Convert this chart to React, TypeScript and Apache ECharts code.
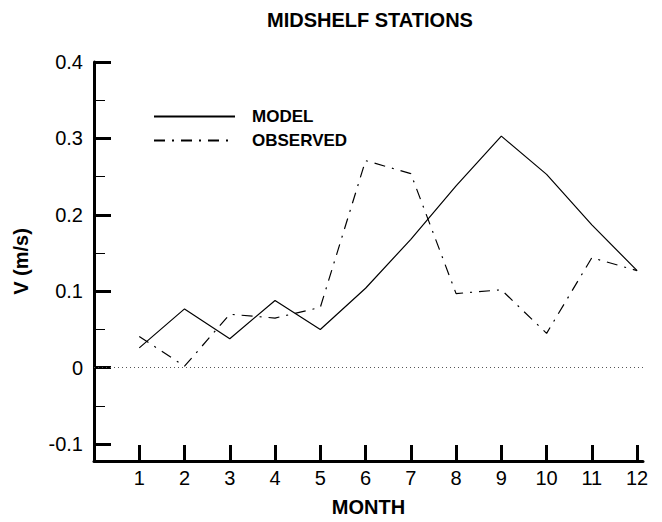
import React, { useEffect, useRef } from "react";
import * as echarts from "echarts";

// Monthly mean alongshore velocity at the midshelf stations
const months = [1, 2, 3, 4, 5, 6, 7, 8, 9, 10, 11, 12];
const modelV = [0.026, 0.077, 0.038, 0.088, 0.05, 0.104, 0.168, 0.238, 0.303, 0.253, 0.187, 0.127];
const observedV = [0.041, 0.002, 0.07, 0.065, 0.079, 0.271, 0.254, 0.097, 0.102, 0.045, 0.144, 0.127];

const yMajorTicks = [-0.1, 0, 0.1, 0.2, 0.3, 0.4];
const yMinorTicks = [-0.05, 0.05, 0.15, 0.25, 0.35];
const yLabels = ["-0.1", "0", "0.1", "0.2", "0.3", "0.4"];

const FONT = "'Liberation Sans', Arial, Helvetica, sans-serif";

export default function App() {
  const ref = useRef<HTMLDivElement>(null);

  useEffect(() => {
    document.body.style.margin = "0";
    if (!ref.current) return;
    const chart = echarts.init(ref.current, undefined, { renderer: "svg" });

    const toPairs = (vals: number[]) => months.map((m, i) => [m, vals[i]]);

    chart.setOption({
      animation: false,
      backgroundColor: "#ffffff",
      title: {
        text: "MIDSHELF STATIONS",
        left: 262,
        top: 5,
        textStyle: { fontFamily: FONT, fontWeight: "bold", fontSize: 20, color: "#000" },
      },
      legend: {
        orient: "vertical",
        left: 148,
        top: 103,
        itemWidth: 81,
        itemHeight: 10,
        itemGap: 7,
        selectedMode: false,
        itemStyle: { color: "transparent", borderWidth: 0, opacity: 0 },
        textStyle: {
          fontFamily: FONT,
          fontWeight: "bold",
          fontSize: 17,
          color: "#000",
          padding: [0, 0, 0, 12],
        },
        data: ["MODEL", "OBSERVED"],
      },
      grid: { left: 94, right: 19, top: 62, bottom: 55, containLabel: false },
      xAxis: {
        type: "value",
        min: 0,
        max: 12.13,
        name: "MONTH",
        nameLocation: "middle",
        nameGap: 36,
        nameTextStyle: { fontFamily: FONT, fontWeight: "bold", fontSize: 20, color: "#000" },
        axisLine: { onZero: false, lineStyle: { color: "#000", width: 3 } },
        axisTick: {
          inside: true,
          length: 16,
          customValues: months,
          lineStyle: { color: "#000", width: 3 },
        },
        axisLabel: {
          customValues: months,
          margin: 7,
          fontFamily: FONT,
          fontSize: 20,
          color: "#000",
        },
        splitLine: { show: false },
      },
      yAxis: [
        {
          type: "value",
          min: -0.122,
          max: 0.4,
          name: "V (m/s)",
          nameLocation: "middle",
          nameGap: 63,
          nameRotate: 90,
          nameTextStyle: { fontFamily: FONT, fontWeight: "bold", fontSize: 20, color: "#000" },
          axisLine: { onZero: false, lineStyle: { color: "#000", width: 3 } },
          axisTick: {
            inside: true,
            length: 17,
            customValues: yMajorTicks,
            lineStyle: { color: "#000", width: 3 },
          },
          axisLabel: {
            customValues: yMajorTicks,
            margin: 11,
            fontFamily: FONT,
            fontSize: 20,
            color: "#000",
            formatter: (v: number) => {
              const idx = yMajorTicks.findIndex((t) => Math.abs(t - v) < 1e-6);
              return idx >= 0 ? yLabels[idx] : "";
            },
          },
          splitLine: { show: false },
        },
        {
          type: "value",
          min: -0.122,
          max: 0.4,
          position: "left",
          axisLine: { show: false, onZero: false },
          axisTick: {
            inside: true,
            length: 11,
            customValues: yMinorTicks,
            lineStyle: { color: "#000", width: 1 },
          },
          axisLabel: { show: false },
          splitLine: { show: false },
        },
      ],
      series: [
        {
          name: "MODEL",
          type: "line",
          symbol: "none",
          data: toPairs(modelV),
          lineStyle: { color: "#000", width: 1.2, type: "solid" },
          itemStyle: { color: "#000" },
          markLine: {
            silent: true,
            symbol: "none",
            label: { show: false },
            lineStyle: { color: "#555", width: 1, type: [1, 3] },
            data: [{ yAxis: 0 }],
          },
        },
        {
          name: "OBSERVED",
          type: "line",
          symbol: "none",
          data: toPairs(observedV),
          lineStyle: { color: "#000", width: 1.2, type: [11, 7, 2, 7] },
          itemStyle: { color: "#000" },
        },
      ],
    });

    return () => chart.dispose();
  }, []);

  return <div ref={ref} style={{ width: 662, height: 522 }} />;
}
